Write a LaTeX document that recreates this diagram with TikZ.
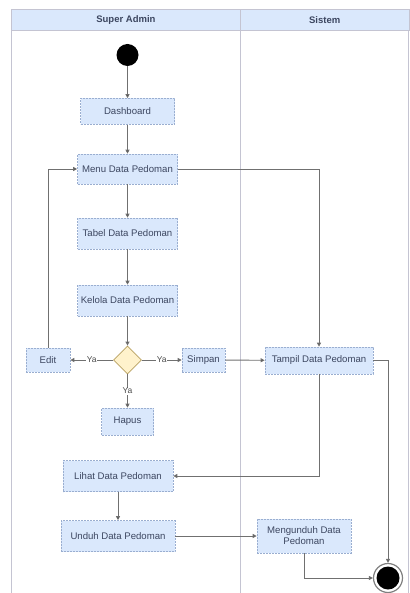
\documentclass[tikz,border=0pt]{standalone}
\usepackage{fontspec}
\setmainfont{Liberation Sans}
\usetikzlibrary{shapes.geometric,arrows.meta}
\definecolor{actfill}{HTML}{DAE8FC}
\definecolor{actline}{HTML}{9AAED0}
\definecolor{decfill}{HTML}{FFF2CC}
\definecolor{decline}{HTML}{B8A060}
\definecolor{laneline}{HTML}{C4C4D2}
\definecolor{wire}{HTML}{707070}
\definecolor{labeltext}{HTML}{3C4660}
\tikzset{
  act/.style={rectangle, draw=actline, fill=actfill, dash pattern=on 2pt off 1pt,
    line width=0.6pt, font=\fontsize{9.6}{11}\selectfont, text=labeltext, align=center, inner sep=1pt},
  dec/.style={diamond, draw=decline, fill=decfill, line width=0.8pt, inner sep=0pt,
    minimum width=28, minimum height=28},
  arr/.style={draw=wire, line width=0.9pt, -{Triangle[length=4pt,width=4pt,fill=black!85]}},
  lbl/.style={fill=white, inner sep=0.5pt, font=\fontsize{8.5}{10}\selectfont, text=black!70},
  lanehead/.style={draw=laneline, fill=actfill, line width=0.8pt, font=\bfseries\fontsize{9.5}{11}\selectfont, text=labeltext}
}
\begin{document}
\begin{tikzpicture}[x=1pt,y=-1pt]
\useasboundingbox (0,0) rectangle (409,593);
% swimlanes
\draw[laneline, line width=0.9pt] (11,30) -- (11,593);
\draw[laneline, line width=0.9pt] (240,30) -- (240,593);
\draw[laneline, line width=0.9pt] (408.5,30) -- (408.5,593);
\node[lanehead, minimum width=229, minimum height=21, anchor=north west] (hadmin) at (11,9) {Super Admin};
\node[lanehead, minimum width=168.5, minimum height=21, anchor=north west] (hsys) at (240,9) {Sistem};

% activities
\node[circle, fill=black, minimum size=22, inner sep=0pt] (start) at (127.5,55) {};
\node[act, minimum width=94, minimum height=26] (dash) at (127.5,111.5) {Dashboard};
\node[act, minimum width=100, minimum height=30] (menu) at (127.5,169) {Menu Data Pedoman};
\node[act, minimum width=100, minimum height=31] (tabel) at (127.5,233.5) {Tabel Data Pedoman};
\node[act, minimum width=100, minimum height=31] (kelola) at (127.5,300.5) {Kelola Data Pedoman};
\node[dec] (choice) at (127.5,360) {};
\node[act, minimum width=44, minimum height=24] (edit) at (48,360) {Edit};
\node[act, minimum width=43, minimum height=24] (simpan) at (203.5,360) {Simpan};
\node[act, minimum width=52, minimum height=27] (hapus) at (127.5,421.5) {Hapus};
\node[act, minimum width=108, minimum height=27] (tampil) at (319,360.5) {Tampil Data Pedoman};
\node[act, minimum width=110, minimum height=31] (lihat) at (118,476) {Lihat Data Pedoman};
\node[act, minimum width=114, minimum height=31] (unduh) at (118,536) {Unduh Data Pedoman};
\node[act, minimum width=94, minimum height=34] (mengunduh) at (304,536) {Mengunduh Data\\Pedoman};
\node[circle, draw=black!50, line width=1.2pt, fill=white, minimum size=29, inner sep=0pt] (stop) at (388,578) {};
\fill[black] (stop.center) circle (11.5);

% flows
\draw[arr] (start) -- (dash);
\draw[arr] (dash) -- (menu);
\draw[arr] (menu) -- (tabel);
\draw[arr] (tabel) -- (kelola);
\draw[arr] (kelola) -- (choice);
\draw[arr] (menu.east) -| (tampil.north);
\draw[arr] (edit.north) |- (menu.west);
\draw[arr] (choice.west) -- node[lbl] {Ya} (edit.east);
\draw[arr] (choice.east) -- node[lbl] {Ya} (simpan.west);
\draw[arr] (choice.south) -- node[lbl, pos=0.5] {Ya} (hapus.north);
\draw[arr] (simpan) -- (tampil);
\draw[arr] (tampil.south) |- (lihat.east);
\draw[arr] (tampil.east) -| (stop.north);
\draw[arr] (lihat) -- (unduh);
\draw[arr] (unduh) -- (mengunduh);
\draw[arr] (mengunduh.south) |- (stop.west);
\end{tikzpicture}
\end{document}
